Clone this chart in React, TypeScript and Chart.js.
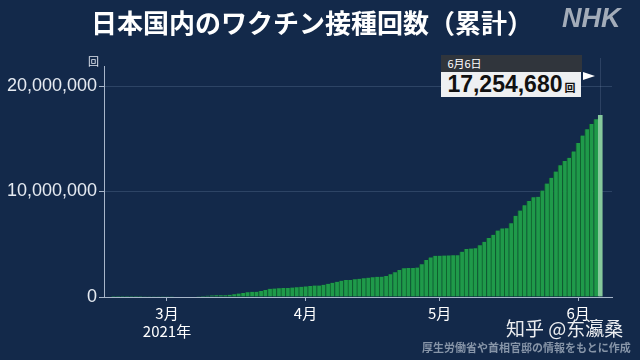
import React, { useEffect, useRef, useState } from 'react';
import { Chart, registerables } from 'chart.js';

Chart.register(...registerables);

// ---- data (cumulative doses) ----
const febDays = [17, 18, 19, 20, 21, 22, 23, 24, 25, 26, 27, 28];
const febValues = [125, 1900, 5300, 5300, 5300, 9500, 9500, 13800, 18000, 22000, 22000, 22000];
const marValues = [
  28000, 34000, 40000, 47000, 55000, 56000, 56000, 80000, 100000, 125000,
  150000, 170000, 175000, 175000, 215000, 265000, 330000, 390000, 450000, 490000,
  500000, 560000, 660000, 780000, 810000, 830000, 850000, 860000, 890000, 930000,
  970000,
];
const aprValues = [
  1000000, 1050000, 1080000, 1080000, 1150000, 1250000, 1350000, 1450000, 1550000, 1600000,
  1610000, 1680000, 1720000, 1780000, 1830000, 1880000, 1920000, 1930000, 2000000, 2150000,
  2350000, 2550000, 2720000, 2750000, 2760000, 2800000, 3100000, 3500000, 3750000, 3900000,
];
const mayValues = [
  3920000, 3930000, 3940000, 3950000, 3960000, 4300000, 4550000, 4600000, 4610000, 4900000,
  5240000, 5600000, 5900000, 6300000, 6500000, 6510000, 7000000, 7700000, 8200000, 8700000,
  9100000, 9450000, 9500000, 10100000, 10750000, 11300000, 11900000, 12500000, 12900000, 13200000,
  13800000,
];
const junValues = [14600000, 15300000, 15900000, 16400000, 16850000, 17254680];

const monthLabels = ['3月', '4月', '5月', '6月'];
const yearLabel = '2021年';
const yTicks = [0, 10000000, 20000000];
const latestDateLabel = '6月6日';
const latestValue = 17254680;
const unitLabel = '回';
const titleText = '日本国内のワクチン接種回数（累計）';
const sourceText = '厚生労働省や首相官邸の情報をもとに作成';
const watermarkText = '知乎 @东瀛桑';

// day offsets relative to March 1
const monthStartOffset = { feb: -29, mar: -1, apr: 30, may: 60, jun: 91 };
const monthTickValues = [0, 31, 61, 92];

function buildPoints() {
  const pts: { x: number; y: number }[] = [];
  febValues.forEach((v, i) => pts.push({ x: febDays[i] + monthStartOffset.feb, y: v }));
  marValues.forEach((v, i) => pts.push({ x: i + 1 + monthStartOffset.mar, y: v }));
  aprValues.forEach((v, i) => pts.push({ x: i + 1 + monthStartOffset.apr, y: v }));
  mayValues.forEach((v, i) => pts.push({ x: i + 1 + monthStartOffset.may, y: v }));
  junValues.forEach((v, i) => pts.push({ x: i + 1 + monthStartOffset.jun, y: v }));
  return pts;
}

const BG = '#13294a';
const BAR = '#1f9a4a';
const BAR_EDGE = '#0f5f2e';
const BAR_LAST = '#86c99c';
const AXIS = '#a7b5c9';

export default function App() {
  const canvasRef = useRef<HTMLCanvasElement | null>(null);
  const [anno, setAnno] = useState<{ x: number; top: number; axisLeft: number } | null>(null);

  useEffect(() => {
    const points = buildPoints();
    const n = points.length;
    const colors = points.map((_, i) => (i === n - 1 ? BAR_LAST : BAR));
    const edges = points.map((_, i) => (i === n - 1 ? BAR_LAST : BAR_EDGE));

    const markerPlugin = {
      id: 'marker',
      beforeDatasetsDraw(chart: any) {
        const { ctx, chartArea } = chart;
        const meta = chart.getDatasetMeta(0);
        const last = meta.data[meta.data.length - 1];
        if (!last) return;
        ctx.save();
        ctx.strokeStyle = 'rgba(160,180,210,0.18)';
        ctx.lineWidth = 1;
        ctx.beginPath();
        ctx.moveTo(Math.round(last.x) + 0.5, chartArea.top - 8);
        ctx.lineTo(Math.round(last.x) + 0.5, last.y);
        ctx.stroke();
        ctx.restore();
      },
    };

    const chart = new Chart(canvasRef.current as HTMLCanvasElement, {
      type: 'bar',
      data: {
        datasets: [
          {
            data: points as any,
            backgroundColor: colors,
            borderColor: edges,
            borderWidth: { left: 1, right: 0, top: 0, bottom: 0 } as any,
            borderSkipped: false,
            barPercentage: 1,
            categoryPercentage: 1,
          },
        ],
      },
      options: {
        responsive: false,
        animation: false,
        devicePixelRatio: 1,
        layout: { padding: { top: 66, right: 28, left: 0, bottom: 0 } },
        plugins: { legend: { display: false }, tooltip: { enabled: false }, title: { display: false } },
        scales: {
          x: {
            type: 'linear',
            min: -14.1,
            max: 99.6,
            offset: false,
            grid: {
              offset: false,
              drawOnChartArea: false,
              drawTicks: true,
              tickLength: 4,
              tickColor: AXIS,
            },
            border: { display: true, color: AXIS, width: 1 },
            afterBuildTicks: (scale: any) => {
              scale.ticks = monthTickValues.map((v) => ({ value: v }));
            },
            afterFit: (scale: any) => {
              scale.height = 63;
            },
            ticks: {
              autoSkip: false,
              maxRotation: 0,
              padding: 3,
              color: '#ffffff',
              font: { family: "'Noto Sans CJK JP', sans-serif", size: 15, lineHeight: 1.2 },
              callback: (value: any) => {
                const idx = monthTickValues.indexOf(Number(value));
                if (idx < 0) return '';
                return idx === 0 ? [monthLabels[0], yearLabel] : monthLabels[idx];
              },
            },
          },
          y: {
            min: 0,
            max: 21900000,
            grid: {
              color: 'rgba(130,155,190,0.24)',
              drawTicks: true,
              tickLength: 5,
              tickColor: AXIS,
            },
            border: { display: true, color: AXIS, width: 1 },
            afterBuildTicks: (scale: any) => {
              scale.ticks = yTicks.map((v) => ({ value: v }));
            },
            afterFit: (scale: any) => {
              scale.width = 104;
            },
            ticks: {
              padding: 2,
              color: '#e6ebf2',
              font: { family: "'Liberation Sans', Arial, sans-serif", size: 18 },
              callback: (value: any) => Number(value).toLocaleString('en-US'),
            },
          },
        },
      },
      plugins: [markerPlugin],
    });

    const meta = chart.getDatasetMeta(0);
    const last: any = meta.data[meta.data.length - 1];
    setAnno({ x: last.x, top: chart.chartArea.top, axisLeft: chart.chartArea.left });

    return () => chart.destroy();
  }, []);

  return (
    <div
      style={{
        position: 'fixed',
        left: 0,
        top: 0,
        width: 640,
        height: 360,
        background: BG,
        overflow: 'hidden',
        fontFamily: "'Noto Sans CJK JP', sans-serif",
      }}
    >
      <canvas ref={canvasRef} width={640} height={360} style={{ position: 'absolute', left: 0, top: 0 }} />
      <div
        style={{
          position: 'absolute',
          left: 91,
          top: 7,
          fontSize: 26,
          lineHeight: '30px',
          fontWeight: 700,
          color: '#ffffff',
          whiteSpace: 'nowrap',
        }}
      >
        {titleText}
      </div>
      <div
        style={{
          position: 'absolute',
          left: 562,
          top: 3,
          fontSize: 27,
          lineHeight: '30px',
          fontWeight: 900,
          fontStyle: 'italic',
          color: '#a3acb9',
          fontFamily: "'Liberation Sans', Arial, sans-serif",
          letterSpacing: 0,
        }}
      >
        NHK
      </div>
      {anno && (
        <>
          <div
            style={{
              position: 'absolute',
              left: anno.axisLeft - 16,
              top: anno.top - 11,
              fontSize: 11,
              lineHeight: '12px',
              color: '#dfe5ee',
            }}
          >
            {unitLabel}
          </div>
          <div
            style={{
              position: 'absolute',
              left: anno.x - 159,
              top: 55,
              width: 141,
              height: 17,
              background: '#30353c',
              color: '#ffffff',
              fontSize: 11,
              lineHeight: '17px',
              paddingLeft: 6,
              boxSizing: 'border-box',
            }}
          >
            {latestDateLabel}
          </div>
          <div
            style={{
              position: 'absolute',
              left: anno.x - 159,
              top: 72,
              width: 140,
              height: 25,
              background: '#eef0f2',
              color: '#111111',
              boxSizing: 'border-box',
              paddingLeft: 6,
              whiteSpace: 'nowrap',
            }}
          >
            <span
              style={{
                fontFamily: "'Liberation Sans', Arial, sans-serif",
                fontWeight: 700,
                fontSize: 23,
                lineHeight: '25px',
              }}
            >
              {latestValue.toLocaleString('en-US')}
            </span>
            <span style={{ fontSize: 11, marginLeft: 2, fontWeight: 700 }}>{unitLabel}</span>
          </div>
          <div
            style={{
              position: 'absolute',
              left: anno.x - 17,
              top: 72,
              width: 0,
              height: 0,
              borderTop: '4px solid transparent',
              borderBottom: '4px solid transparent',
              borderLeft: '12px solid #ffffff',
            }}
          />
        </>
      )}
      <div
        style={{
          position: 'absolute',
          left: 506,
          top: 316,
          fontSize: 19,
          lineHeight: '24px',
          color: 'rgba(255,255,255,0.92)',
          fontFamily: "'Noto Sans CJK SC', sans-serif",
          whiteSpace: 'nowrap',
        }}
      >
        {watermarkText}
      </div>
      <div
        style={{
          position: 'absolute',
          left: 422,
          top: 340,
          fontSize: 11,
          lineHeight: '14px',
          fontWeight: 700,
          color: '#8795a8',
          whiteSpace: 'nowrap',
        }}
      >
        {sourceText}
      </div>
    </div>
  );
}
